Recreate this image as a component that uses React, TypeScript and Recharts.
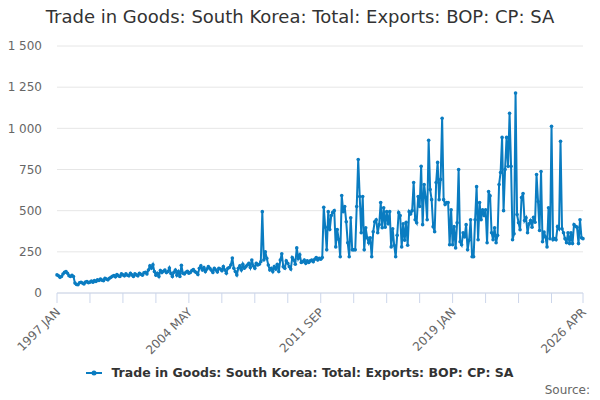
import { LineChart, Line, XAxis, YAxis, CartesianGrid } from 'recharts';

const title = 'Trade in Goods: South Korea: Total: Exports: BOP: CP: SA';
const startYear = 1997;
const monthNames = ['JAN', 'FEB', 'MAR', 'APR', 'MAY', 'JUN', 'JUL', 'AUG', 'SEP', 'OCT', 'NOV', 'DEC'];

// monthly values, one row per year (2026 is Jan-Apr)
const values: number[] = [
  110, 105, 95, 100, 115, 125, 130, 120, 105, 100, 108, 100,
  60, 52, 50, 62, 65, 60, 55, 66, 70, 62, 66, 72,
  65, 75, 70, 80, 76, 85, 78, 75, 90, 84, 80, 90,
  95, 102, 106, 98, 112, 104, 100, 116, 110, 104, 116, 108,
  104, 120, 110, 100, 116, 110, 104, 120, 114, 108, 122, 126,
  116, 140, 165, 150, 172, 130, 108, 120, 100, 136, 124, 132,
  140, 124, 130, 152, 118, 100, 126, 140, 108, 130, 100, 168,
  120, 115, 126, 132, 120, 125, 136, 142, 130, 124, 112, 150,
  165, 140, 155, 130, 145, 160, 150, 138, 125, 150, 140, 128,
  150, 145, 135, 160, 140, 120, 150, 155, 170, 213, 150, 130,
  110, 150, 165, 140, 175, 150, 160, 170, 180, 155, 200, 165,
  150, 180, 170, 175, 190, 494, 200, 250, 210, 170, 140, 150,
  130, 160, 145, 175, 130, 200, 238, 160, 150, 195, 180, 160,
  145, 215, 200, 175, 274, 210, 232, 185, 190, 200, 180, 195,
  185, 195, 200, 190, 205, 215, 200, 210, 205, 215, 520, 400,
  262, 494, 385, 470, 490, 500, 280, 385, 325, 220, 592, 494,
  525, 433, 305, 220, 457, 262, 262, 262, 525, 811, 586, 366,
  586, 262, 396, 335, 305, 335, 220, 372, 433, 445, 366, 415,
  549, 396, 518, 400, 494, 420, 494, 280, 390, 290, 220, 350,
  488, 470, 280, 420, 320, 430, 290, 494, 480, 500, 671, 445,
  427, 586, 525, 769, 415, 659, 580, 445, 927, 628, 567, 403,
  372, 671, 793, 567, 690, 1061, 567, 537, 550, 550, 293, 506,
  293, 403, 274, 427, 750, 311, 293, 366, 340, 415, 262, 320,
  445, 220, 220, 445, 646, 323, 549, 445, 506, 470, 506, 305,
  616, 590, 366, 323, 396, 305, 350, 659, 732, 945, 500, 750,
  945, 769, 1092, 769, 323, 360, 1214, 476, 427, 384, 580, 604,
  440, 457, 366, 420, 440, 400, 460, 430, 720, 555, 380, 738,
  311, 370, 340, 280, 518, 330, 1012, 323, 330, 323, 403, 390,
  921, 390, 366, 330, 305, 366, 300, 366, 300, 415, 405, 400,
  300, 445, 335, 330,
];

const xTicks = [0, 22, 44, 66, 88, 110, 132, 154, 176, 198, 220, 242, 264, 286, 308, 330, 351];
const labelTicks = [0, 88, 176, 264, 351];
const yTicks = [0, 250, 500, 750, 1000, 1250, 1500];

const data = values.map((v, i) => ({ i, value: v }));

const monthLabel = (i: number) =>
  `${startYear + Math.floor(i / 12)} ${monthNames[i % 12]}`;

const fmtY = (v: number) => (v >= 1000 ? `${Math.floor(v / 1000)} ${String(v % 1000).padStart(3, '0')}` : `${v}`);

const color = '#0a7cc1';
const font = '"DejaVu Sans", Verdana, sans-serif';

function XTick(props: any) {
  const { x, y, payload } = props;
  if (!labelTicks.includes(payload.value)) return null;
  return (
    <text
      x={x + 4}
      y={y + 8}
      transform={`rotate(-45 ${x + 4} ${y + 8})`}
      textAnchor="end"
      fontSize={12}
      fill="#666"
      fontFamily={font}
    >
      {monthLabel(payload.value)}
    </text>
  );
}

export default function App() {
  return (
    <div style={{ position: 'absolute', left: 0, top: 0, width: 600, height: 400, background: '#fff', fontFamily: font }}>
      <div style={{ position: 'absolute', top: 6, left: 0, width: 600, textAlign: 'center', fontSize: 18, color: '#333' }}>
        {title}
      </div>
      <LineChart width={600} height={400} data={data} margin={{ top: 46, right: 17, bottom: 0, left: 0 }}>
        <CartesianGrid horizontal vertical={false} stroke="#e6e6e6" />
        <XAxis
          dataKey="i"
          type="number"
          domain={[0, 351]}
          ticks={xTicks}
          interval={0}
          height={107}
          tick={<XTick />}
          tickSize={10}
          axisLine={{ stroke: '#ccd6eb' }}
          tickLine={{ stroke: '#ccd6eb' }}
        />
        <YAxis
          domain={[0, 1500]}
          ticks={yTicks}
          width={57}
          axisLine={false}
          tickLine={false}
          tickSize={0}
          tickMargin={15}
          tickFormatter={fmtY}
          tick={{ fontSize: 12, fill: '#666', fontFamily: font }}
        />
        <Line
          type="linear"
          dataKey="value"
          stroke={color}
          strokeWidth={2}
          dot={{ r: 1.8, fill: color, stroke: color, strokeWidth: 0 }}
          isAnimationActive={false}
        />
      </LineChart>
      <div style={{ position: 'absolute', top: 365, left: 0, width: 600, display: 'flex', justifyContent: 'center', alignItems: 'center' }}>
        <svg width={21} height={10} style={{ marginRight: 4 }}>
          <line x1={0} y1={5} x2={16} y2={5} stroke={color} strokeWidth={2} />
          <circle cx={8} cy={5} r={2.5} fill={color} />
        </svg>
        <span style={{ fontSize: 12.5, fontWeight: 'bold', color: '#333' }}>{title}</span>
      </div>
      <div style={{ position: 'absolute', top: 383, right: 10, fontSize: 12, color: '#666' }}>Source:</div>
    </div>
  );
}
